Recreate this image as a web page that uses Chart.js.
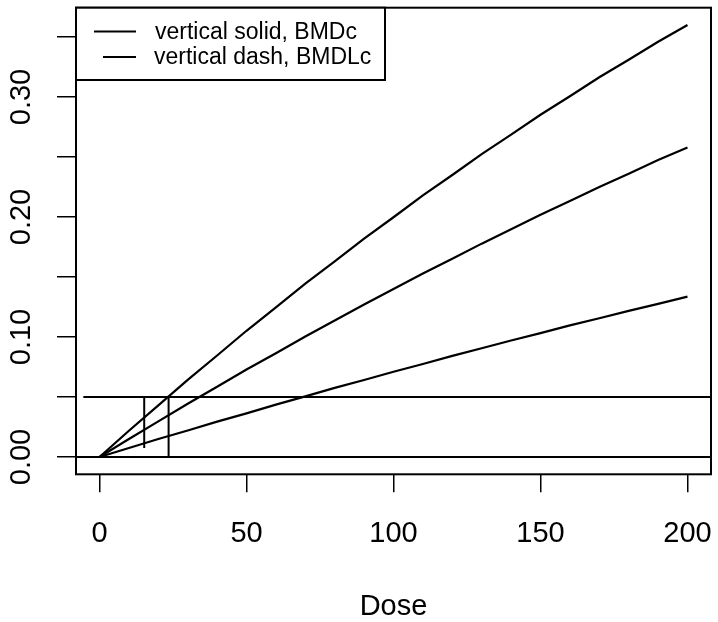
<!DOCTYPE html>
<html>
<head>
<meta charset="utf-8">
<script src="https://cdn.jsdelivr.net/npm/chart.js@4/dist/chart.umd.min.js"></script>
<style>
  html, body { margin: 0; padding: 0; background: #fff; }
  #wrap { width: 718px; height: 622px; }
</style>
</head>
<body>
<div id="wrap"><canvas id="c" width="718" height="622"></canvas></div>
<script>
// ---- data ----
const doses = [0, 10, 20, 30, 40, 50, 60, 70, 80, 90, 100, 110, 120, 130, 140, 150, 160, 170, 180, 190, 200];
const upperCurve = [0, 0.0219, 0.0431, 0.0643, 0.0846, 0.1052, 0.1246, 0.1444, 0.1630, 0.1820, 0.1998, 0.2180, 0.2350, 0.2524, 0.2686, 0.2852, 0.3006, 0.3164, 0.3310, 0.3460, 0.3600];
const middleCurve = [0, 0.0150, 0.0297, 0.0444, 0.0585, 0.0729, 0.0865, 0.1004, 0.1137, 0.1271, 0.1400, 0.1529, 0.1652, 0.1778, 0.1897, 0.2019, 0.2133, 0.2250, 0.2361, 0.2474, 0.2580];
const lowerCurve = [0, 0.0075, 0.0150, 0.0221, 0.0295, 0.0364, 0.0437, 0.0505, 0.0576, 0.0642, 0.0711, 0.0775, 0.0843, 0.0906, 0.0971, 0.1032, 0.1097, 0.1156, 0.1218, 0.1276, 0.1336];
const bmr = 0.05;            // horizontal benchmark response line
const bmdc = 23.5;           // vertical solid line
const bmdlc = 15.2;          // vertical dash line
const bmdlcLow = 0.0075;     // lower end of the BMDLc segment
const xTicks = [0, 50, 100, 150, 200];
const yTicks = [0, 0.05, 0.10, 0.15, 0.20, 0.25, 0.30, 0.35];
const yLabelTicks = [0, 0.10, 0.20, 0.30];
const legendLabels = ['vertical solid, BMDc', 'vertical dash, BMDLc'];
const xTitle = 'Dose';

const FONT = '"Liberation Sans", Arial, Helvetica, sans-serif';

function pts(ys) { return doses.map((d, i) => ({ x: d, y: ys[i] })); }

const lineStyle = { borderColor: '#000', borderWidth: 2.2, pointRadius: 0, tension: 0, fill: false };

const datasets = [
  Object.assign({ label: 'upper', data: pts(upperCurve) }, lineStyle),
  Object.assign({ label: 'middle', data: pts(middleCurve) }, lineStyle),
  Object.assign({ label: 'lower', data: pts(lowerCurve) }, lineStyle),
  Object.assign({ label: 'zero', data: [{ x: -8, y: 0 }, { x: 208, y: 0 }] }, lineStyle, { borderWidth: 2 }),
  Object.assign({ label: 'bmr', data: [{ x: -5.5, y: bmr }, { x: 208, y: bmr }] }, lineStyle, { borderWidth: 2 }),
  Object.assign({ label: 'bmdc', data: [{ x: bmdc, y: 0 }, { x: bmdc, y: bmr }] }, lineStyle, { borderWidth: 2 }),
  Object.assign({ label: 'bmdlc', data: [{ x: bmdlc, y: bmdlcLow }, { x: bmdlc, y: bmr }] }, lineStyle, { borderWidth: 2 })
];

const boxPlugin = {
  id: 'boxAndLegend',
  afterDraw(chart) {
    const ctx = chart.ctx;
    const a = chart.chartArea;
    ctx.save();
    // plot frame
    ctx.strokeStyle = '#000';
    ctx.lineWidth = 2;
    ctx.strokeRect(a.left, a.top, a.right - a.left, a.bottom - a.top);
    // y tick labels, rotated as in R
    const ys = chart.scales.y;
    ctx.fillStyle = '#000';
    ctx.font = '29px ' + FONT;
    ctx.textAlign = 'center';
    ctx.textBaseline = 'middle';
    yLabelTicks.forEach(v => {
      ctx.save();
      ctx.translate(22, ys.getPixelForValue(v));
      ctx.rotate(-Math.PI / 2);
      ctx.fillText(v.toFixed(2), 0, 0);
      ctx.restore();
    });
    // legend box
    const lx = a.left, ly = a.top, lw = 385 - a.left, lh = 80 - a.top;
    ctx.fillStyle = '#fff';
    ctx.fillRect(lx, ly, lw, lh);
    ctx.strokeRect(lx, ly, lw, lh);
    ctx.fillStyle = '#000';
    ctx.lineWidth = 2;
    ctx.font = '23px ' + FONT;
    ctx.textAlign = 'left';
    const rows = [{ y: 31.5, x0: 94, x1: 136, tx: 155 }, { y: 57, x0: 103, x1: 136, tx: 154 }];
    legendLabels.forEach((t, i) => {
      const r = rows[i];
      ctx.beginPath();
      ctx.moveTo(r.x0, r.y);
      ctx.lineTo(r.x1, r.y);
      ctx.stroke();
      ctx.fillText(t, r.tx, r.y + 1);
    });
    ctx.restore();
  }
};

new Chart(document.getElementById('c'), {
  type: 'line',
  data: { datasets },
  options: {
    responsive: false,
    animation: false,
    layout: { padding: { top: 7.7, right: 7, left: 0, bottom: 0 } },
    plugins: { legend: { display: false }, tooltip: { enabled: false } },
    scales: {
      x: {
        type: 'linear',
        min: -8,
        max: 208,
        afterBuildTicks(s) { s.ticks = xTicks.map(v => ({ value: v })); },
        afterFit(s) { s.height = 147.7; s.paddingLeft = 0; s.paddingRight = 0; },
        border: { display: false },
        grid: { display: true, drawOnChartArea: false, drawTicks: true, tickLength: 18, color: '#000', lineWidth: 1.5 },
        ticks: { color: '#000', font: { family: FONT, size: 29 }, padding: 24, maxRotation: 0, autoSkip: false,
                 callback: v => String(v) },
        title: { display: true, text: xTitle, color: '#000', font: { family: FONT, size: 29 }, padding: { top: 0, bottom: -2 } }
      },
      y: {
        type: 'linear',
        min: -0.0144,
        max: 0.3744,
        afterBuildTicks(s) { s.ticks = yTicks.map(v => ({ value: v })); },
        afterFit(s) { s.width = 76; s.paddingTop = 0; s.paddingBottom = 0; },
        border: { display: false },
        grid: { display: true, drawOnChartArea: false, drawTicks: true, tickLength: 19, color: '#000', lineWidth: 1.5 },
        ticks: { display: false }
      }
    }
  },
  plugins: [boxPlugin]
});
</script>
</body>
</html>
